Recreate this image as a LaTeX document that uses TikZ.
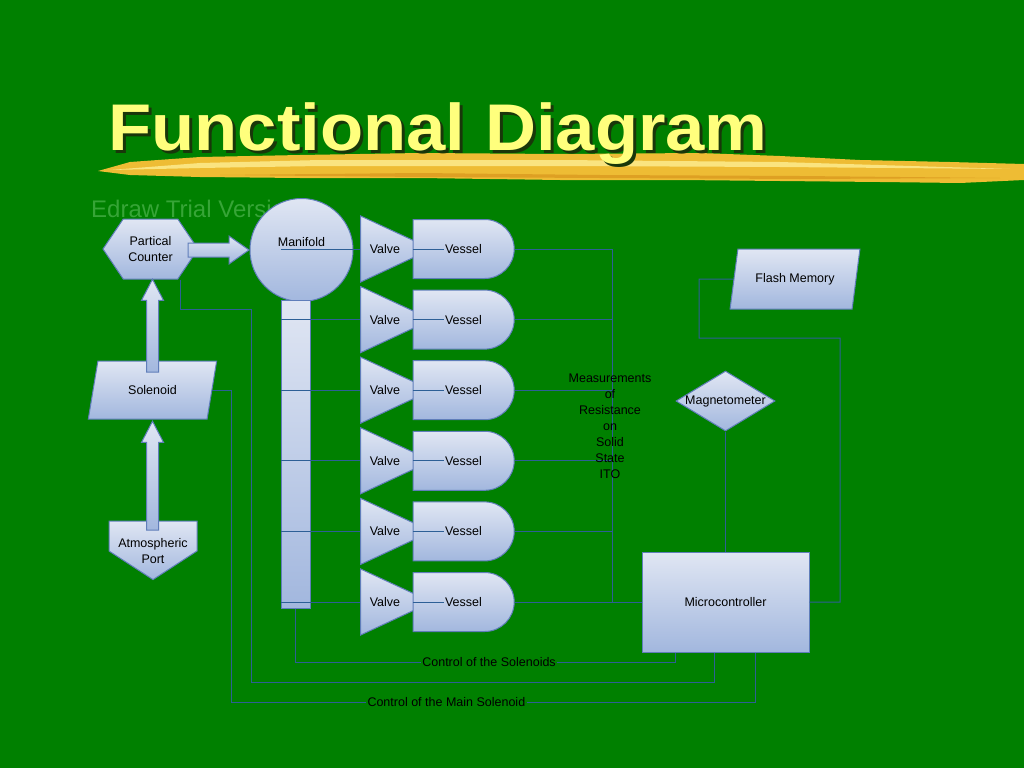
\documentclass[tikz,border=0pt]{standalone}
\usepackage{fontspec}
\setmainfont{Liberation Sans}
\usetikzlibrary{shapes.geometric,shapes.symbols,shapes.arrows,shapes.misc,calc}

\definecolor{bg}{RGB}{0,128,0}
\definecolor{boxtop}{RGB}{224,230,243}
\definecolor{boxbot}{RGB}{162,183,222}
\definecolor{boxline}{RGB}{96,126,186}
\definecolor{wirecol}{RGB}{45,95,150}
\definecolor{titlecol}{RGB}{255,255,125}
\definecolor{titleshadow}{RGB}{25,55,10}
\definecolor{brush}{RGB}{238,188,52}
\definecolor{brushlight}{RGB}{250,228,128}
\definecolor{brushdark}{RGB}{222,160,35}
\definecolor{trialcol}{RGB}{55,165,55}

\tikzset{
  part/.style={draw=boxline, line width=1pt, top color=boxtop, bottom color=boxbot,
    inner sep=0pt, align=center, text=black, font=\fontsize{12.5}{16}\selectfont},
  wire/.style={draw=wirecol, line width=1pt},
  valve/.style={part, isosceles triangle, isosceles triangle apex angle=60,
    isosceles triangle stretches, minimum width=66, minimum height=71},
  vessel/.style={part, rounded rectangle, rounded rectangle left arc=none,
    minimum width=101, minimum height=59},
  slanted/.style={part, trapezium, trapezium left angle=65, trapezium right angle=115,
    trapezium stretches},
  blockarrow/.style={part, single arrow, single arrow tip angle=70, inner xsep=0pt},
  linelabel/.style={fill=bg, inner sep=1.5pt, text=black, font=\fontsize{12.5}{16}\selectfont}
}

\begin{document}
\begin{tikzpicture}[x=1pt,y=-1pt]
  \fill[bg] (0,0) rectangle (1024,768);
  \useasboundingbox (0,0) rectangle (1024,768);

  \fill[brush] (98,171) -- (130,162) -- (200,157) -- (300,155) -- (420,153) -- (560,154)
    -- (700,153) -- (780,156) -- (860,160) -- (950,162) -- (1024,164) -- (1024,180)
    -- (960,183) -- (880,182) -- (780,181) -- (680,180) -- (560,180) -- (420,178)
    -- (300,178) -- (200,177) -- (130,175) -- cycle;
  \fill[brushlight] (110,170) -- (200,163) -- (320,160) -- (560,160) -- (780,162)
    -- (1010,169) -- (780,167) -- (560,166) -- (320,166) -- (200,168) -- cycle;
  \fill[brushdark] (220,175) -- (420,173) -- (600,175) -- (800,176) -- (1000,178)
    -- (800,179) -- (600,178) -- (420,177) -- cycle;

  \node[anchor=base west, text=titleshadow, font=\fontsize{66}{70}\selectfont\bfseries]
    (titleback) at (108,153) {\scalebox{1.07}[1]{Functional Diagram}};
  \node[anchor=base west, text=titlecol, font=\fontsize{66}{70}\selectfont\bfseries]
    (title) at (105,150) {\scalebox{1.07}[1]{Functional Diagram}};

  \node[anchor=base west, text=trialcol, inner sep=0pt, font=\fontsize{24}{24}\selectfont]
    (trial) at (91,217) {Edraw Trial Version};

  \node[part, signal, signal to=west and east, signal pointer angle=112,
    minimum width=95, minimum height=60] (pc) at (150.5,249) {Partical\\Counter};
  \node[slanted, minimum width=129, minimum height=58] (sol) at (152.5,390) {Solenoid};
  \node[part, signal, signal to=south, signal pointer angle=114,
    minimum width=88, minimum height=30,
    label={[font=\fontsize{12.5}{16}\selectfont, align=center, yshift=-15pt]center:Atmospheric\\Port}]
    (ap) at (153,536) {};

  \node[part, circle, minimum size=103,
    label={[yshift=8pt, font=\fontsize{12.5}{16}\selectfont]center:Manifold}] (mf) at (301.5,250) {};
  \node[part, rectangle, minimum width=29, minimum height=308] (tube) at (295.5,454) {};

  \node[valve] (v1) at (385,249) {Valve};
  \node[valve] (v2) at (385,319.6) {Valve};
  \node[valve] (v3) at (385,390.2) {Valve};
  \node[valve] (v4) at (385,460.8) {Valve};
  \node[valve] (v5) at (385,531.4) {Valve};
  \node[valve] (v6) at (385,602) {Valve};

  \node[vessel] (vs1) at (463.5,249) {Vessel};
  \node[vessel] (vs2) at (463.5,319.6) {Vessel};
  \node[vessel] (vs3) at (463.5,390.2) {Vessel};
  \node[vessel] (vs4) at (463.5,460.8) {Vessel};
  \node[vessel] (vs5) at (463.5,531.4) {Vessel};
  \node[vessel] (vs6) at (463.5,602) {Vessel};

  \node[slanted, minimum width=130, minimum height=60] (fm) at (795,279) {Flash Memory};
  \node[part, diamond, minimum width=99, minimum height=60,
    label={[font=\fontsize{12.5}{16}\selectfont]center:Magnetometer}] (mag) at (725.5,401) {};
  \node[part, rectangle, minimum width=167, minimum height=100] (mc) at (725.5,602) {Microcontroller};

  \node[blockarrow, minimum height=61, inner ysep=6.5pt, single arrow head extend=7pt]
    (pcmf) at (213.5,250) {};
  \node[blockarrow, rotate=90, single arrow tip angle=55, minimum height=93,
    inner ysep=5.5pt, single arrow head extend=5pt] (solpc) at (152.5,331.5) {};
  \node[blockarrow, rotate=90, single arrow tip angle=55, minimum height=109,
    inner ysep=5.5pt, single arrow head extend=5pt] (apsol) at (152.5,481.5) {};

  \coordinate (bus) at (612,249);

  \draw[wire] (tube.west |- v1.west) -- (v1.west);
  \draw[wire] (tube.west |- v2.west) -- (v2.west);
  \draw[wire] (tube.west |- v3.west) -- (v3.west);
  \draw[wire] (tube.west |- v4.west) -- (v4.west);
  \draw[wire] (tube.west |- v5.west) -- (v5.west);
  \draw[wire] (tube.west |- v6.west) -- (v6.west);

  \draw[wire] (vs1.west) -- ($(vs1.center)+(-20,0)$);
  \draw[wire] (vs2.west) -- ($(vs2.center)+(-20,0)$);
  \draw[wire] (vs3.west) -- ($(vs3.center)+(-20,0)$);
  \draw[wire] (vs4.west) -- ($(vs4.center)+(-20,0)$);
  \draw[wire] (vs5.west) -- ($(vs5.center)+(-20,0)$);
  \draw[wire] (vs6.west) -- ($(vs6.center)+(-20,0)$);

  \draw[wire] (vs1.east) -- (vs1.east -| bus);
  \draw[wire] (vs2.east) -- (vs2.east -| bus);
  \draw[wire] (vs3.east) -- (vs3.east -| bus);
  \draw[wire] (vs4.east) -- (vs4.east -| bus);
  \draw[wire] (vs5.east) -- (vs5.east -| bus);
  \draw[wire] (vs6.east) -- (mc.west);
  \draw[wire] (bus) |- (mc.west);

  \node[align=center, text=black, font=\fontsize{12.5}{16}\selectfont] (meas) at (610,426.5)
    {Measurements\\of\\Resistance\\on\\Solid\\State\\ITO};

  \draw[wire] (fm.west) -- (699,279) |- (840,338) |- (mc.east);
  \draw[wire] (mag.south) -- (mc.north);

  \draw[wire] (tube.south) |- node[pos=0.755, linelabel] {Control of the Solenoids}
    ($(mc.south)+(-50.5,10)$) -- ($(mc.south)+(-50.5,0)$);
  \draw[wire] ($(pc.south)+(30,0)$) |- (251,309) |- ($(mc.south)+(-11.5,30)$)
    -- ($(mc.south)+(-11.5,0)$);
  \draw[wire] (sol.east) -- ++(19.5,0) |- node[pos=0.705, linelabel] {Control of the Main Solenoid}
    ($(mc.south)+(29.5,50)$) -- ($(mc.south)+(29.5,0)$);
\end{tikzpicture}
\end{document}
